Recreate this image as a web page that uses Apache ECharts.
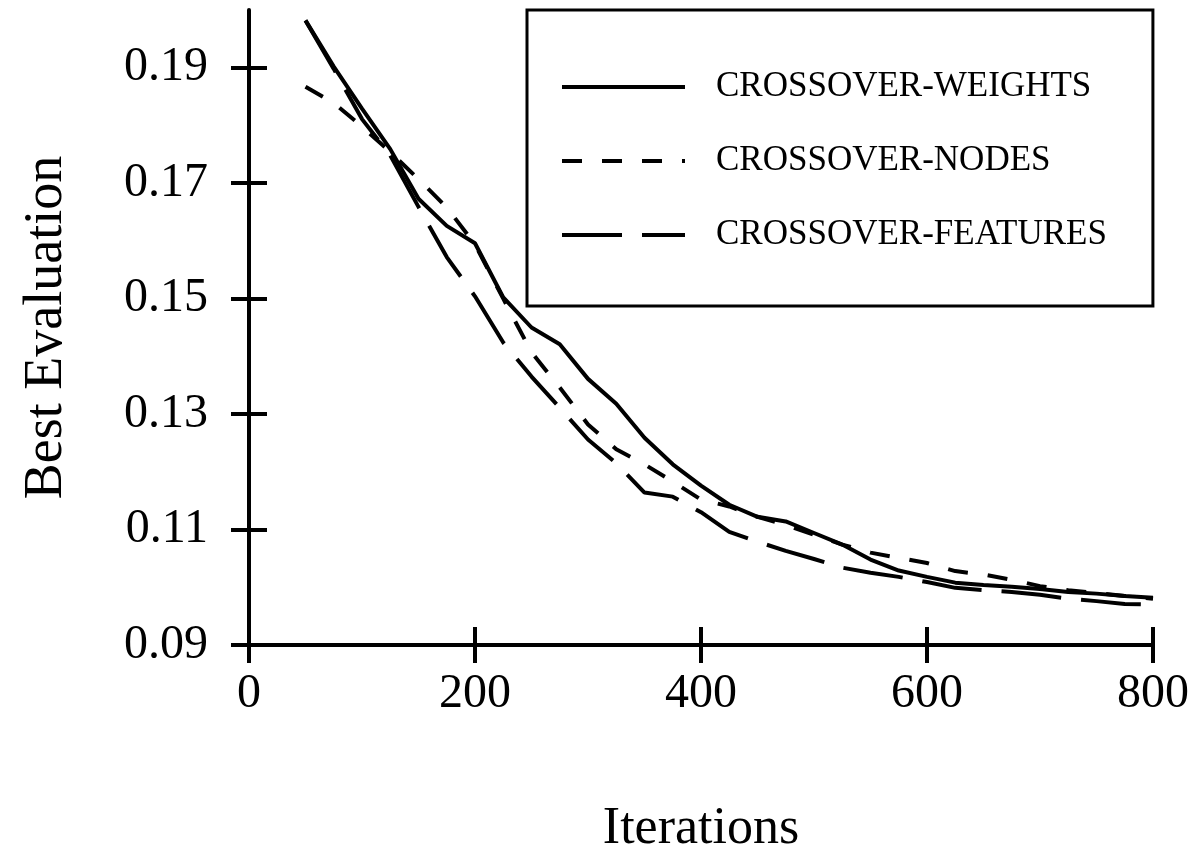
<!DOCTYPE html>
<html>
<head>
<meta charset="utf-8">
<style>
  html, body { margin: 0; padding: 0; background: #fff; }
  #chart { width: 1196px; height: 856px; }
</style>
<script src="https://cdn.jsdelivr.net/npm/echarts@6/dist/echarts.min.js"></script>
</head>
<body>
<div id="chart"></div>
<script>
const FONT = '"Liberation Serif", "Times New Roman", serif';

const iterations = [50, 75, 100, 125, 150, 175, 200, 225, 250, 275, 300, 325, 350, 375, 400,
  425, 450, 475, 500, 525, 550, 575, 600, 625, 650, 675, 700, 725, 750, 775, 800];

const crossoverWeights = [0.1982, 0.1902, 0.1829, 0.1759, 0.1673, 0.1626, 0.1596, 0.1502, 0.1450,
  0.1421, 0.1361, 0.1318, 0.1259, 0.1213, 0.1176, 0.1143, 0.1122, 0.1114, 0.1094, 0.1074, 0.1048,
  0.1029, 0.1018, 0.1008, 0.1004, 0.1001, 0.0997, 0.0992, 0.0989, 0.0985, 0.0982];

const crossoverNodes = [0.1867, 0.1839, 0.1798, 0.1754, 0.1707, 0.1658, 0.1594, 0.1500, 0.1407,
  0.1346, 0.1282, 0.1239, 0.1213, 0.1183, 0.1152, 0.1140, 0.1122, 0.1108, 0.1091, 0.1074, 0.1060,
  0.1051, 0.1042, 0.1028, 0.1022, 0.1013, 0.1002, 0.0995, 0.0990, 0.0985, 0.0980];

const crossoverFeatures = [0.1982, 0.1898, 0.1811, 0.1748, 0.1659, 0.1572, 0.1504, 0.1424, 0.1365,
  0.1311, 0.1256, 0.1215, 0.1164, 0.1157, 0.1130, 0.1096, 0.1079, 0.1063, 0.1049, 0.1034, 0.1025,
  0.1018, 0.1009, 0.0999, 0.0995, 0.0992, 0.0987, 0.0980, 0.0976, 0.0971, 0.0970];

const xTicks = [0, 200, 400, 600, 800];
const yTicks = [0.09, 0.11, 0.13, 0.15, 0.17, 0.19];

const seriesNames = ['CROSSOVER-WEIGHTS', 'CROSSOVER-NODES', 'CROSSOVER-FEATURES'];

function pairs(values) {
  return iterations.map((x, i) => [x, values[i]]);
}

const chart = echarts.init(document.getElementById('chart'), null, { renderer: 'canvas' });

const tickStyle = { color: '#000', width: 4 };

// ticks cross the axis line, so each axis is drawn twice: once with outside ticks, once with inside ones
function xAxisBase(inside) {
  return {
    type: 'value',
    position: 'bottom',
    min: 0,
    max: 800,
    splitLine: { show: false },
    axisLine: { show: !inside, lineStyle: { color: '#000', width: 4 } },
    axisTick: { show: true, inside: inside, length: 18, customValues: xTicks, lineStyle: tickStyle },
    axisLabel: {
      show: !inside,
      customValues: xTicks,
      margin: 25,
      color: '#000',
      fontFamily: FONT,
      fontSize: 48
    }
  };
}

function yAxisBase(inside) {
  return {
    type: 'value',
    position: 'left',
    min: 0.09,
    max: 0.2,
    splitLine: { show: false },
    axisLine: { show: !inside, lineStyle: { color: '#000', width: 4 } },
    axisTick: { show: true, inside: inside, length: 18, customValues: yTicks, lineStyle: tickStyle },
    axisLabel: {
      show: !inside,
      customValues: yTicks,
      formatter: (v) => v.toFixed(2),
      margin: 41,
      color: '#000',
      fontFamily: FONT,
      fontSize: 48
    }
  };
}

const option = {
  animation: false,
  backgroundColor: '#fff',
  grid: { left: 249, right: 43, top: 10, bottom: 211, containLabel: false, outerBoundsMode: 'none' },
  legend: {
    orient: 'vertical',
    left: 527,
    top: 10,
    data: seriesNames,
    itemWidth: 123,
    itemHeight: 14,
    itemGap: 34,
    borderColor: '#000',
    borderWidth: 3,
    borderRadius: 0,
    padding: [57, 46, 51, 33],
    itemStyle: { color: 'rgba(0,0,0,0)', borderWidth: 0, opacity: 0 },
    lineStyle: { width: 4, color: '#000' },
    textStyle: {
      color: '#000',
      fontFamily: FONT,
      fontSize: 35,
      lineHeight: 40,
      padding: [0, 0, 0, 26]
    }
  },
  xAxis: [
    Object.assign(xAxisBase(false), {
      name: 'Iterations',
      nameLocation: 'middle',
      nameGap: 158,
      nameTextStyle: { color: '#000', fontFamily: FONT, fontSize: 52 }
    }),
    xAxisBase(true)
  ],
  yAxis: [
    Object.assign(yAxisBase(false), {
      name: 'Best Evaluation',
      nameLocation: 'middle',
      nameGap: 175,
      nameTextStyle: { color: '#000', fontFamily: FONT, fontSize: 54 }
    }),
    yAxisBase(true)
  ],
  series: [
    {
      name: seriesNames[0],
      type: 'line',
      data: pairs(crossoverWeights),
      symbol: 'none',
      lineStyle: { color: '#000', width: 4, type: 'solid' },
      itemStyle: { color: '#000' }
    },
    {
      name: seriesNames[1],
      type: 'line',
      data: pairs(crossoverNodes),
      symbol: 'none',
      lineStyle: { color: '#000', width: 4, type: [20, 20] },
      itemStyle: { color: '#000' }
    },
    {
      name: seriesNames[2],
      type: 'line',
      data: pairs(crossoverFeatures),
      symbol: 'none',
      lineStyle: { color: '#000', width: 4, type: [60, 20] },
      itemStyle: { color: '#000' }
    }
  ]
};

chart.setOption(option);
</script>
</body>
</html>
